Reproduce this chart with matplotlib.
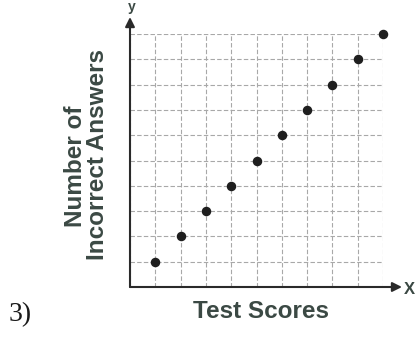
import matplotlib
matplotlib.use('Agg')
import matplotlib.pyplot as plt

scores = [1, 2, 3, 4, 5, 6, 7, 8, 9, 10]
incorrect = [1, 2, 3, 4, 5, 6, 7, 8, 9, 10]

W, H = 417, 339
txt = '#3b4944'

fig = plt.figure(figsize=(W / 100, H / 100), dpi=100)
ax = fig.add_axes([130 / W, 1 - 287 / H, 253 / W, 253 / H])
ax.set_xlim(0, 10)
ax.set_ylim(0, 10)
ax.set_xticks(range(11))
ax.set_yticks(range(11))
ax.tick_params(length=0, labelbottom=False, labelleft=False)
ax.grid(True, color='#a8a8a8', linestyle=(0, (4, 2)), linewidth=0.8)
for s in ax.spines.values():
    s.set_visible(False)

ax.scatter(scores, incorrect, s=34, color='#1e1e1e', zorder=3, clip_on=False)

# axes with arrow heads
ax.annotate('', xy=(10.75, 0), xytext=(0, 0), annotation_clip=False,
            arrowprops=dict(arrowstyle='-|>', color='#2a2a2a', lw=1.5,
                            mutation_scale=14, shrinkA=0, shrinkB=0))
ax.annotate('', xy=(0, 10.67), xytext=(0, 0), annotation_clip=False,
            arrowprops=dict(arrowstyle='-|>', color='#2a2a2a', lw=1.5,
                            mutation_scale=14, shrinkA=0, shrinkB=0))

fig.text(409 / W, 1 - 290 / H, 'X', color=txt, fontsize=12, fontweight='bold',
         family='Liberation Sans', ha='center', va='center')
fig.text(132 / W, 1 - 7 / H, 'y', color=txt, fontsize=10, fontweight='bold',
         family='Liberation Sans', ha='center', va='center')

fig.text(261 / W, 1 - 311 / H, 'Test Scores', color=txt, fontsize=17.5,
         fontweight='bold', family='Liberation Sans', ha='center', va='center')
fig.text(75 / W, 1 - 166 / H, 'Number of', color=txt, fontsize=17.5,
         fontweight='bold', family='Liberation Sans', rotation=90,
         ha='center', va='center')
fig.text(97 / W, 1 - 155 / H, 'Incorrect Answers', color=txt, fontsize=17.5,
         fontweight='bold', family='Liberation Sans', rotation=90,
         ha='center', va='center')

fig.text(20 / W, 1 - 315 / H, '3)', color='#1a1a1a', fontsize=20,
         family='Liberation Serif', ha='center', va='center')

fig.savefig('out.png', dpi=100)
